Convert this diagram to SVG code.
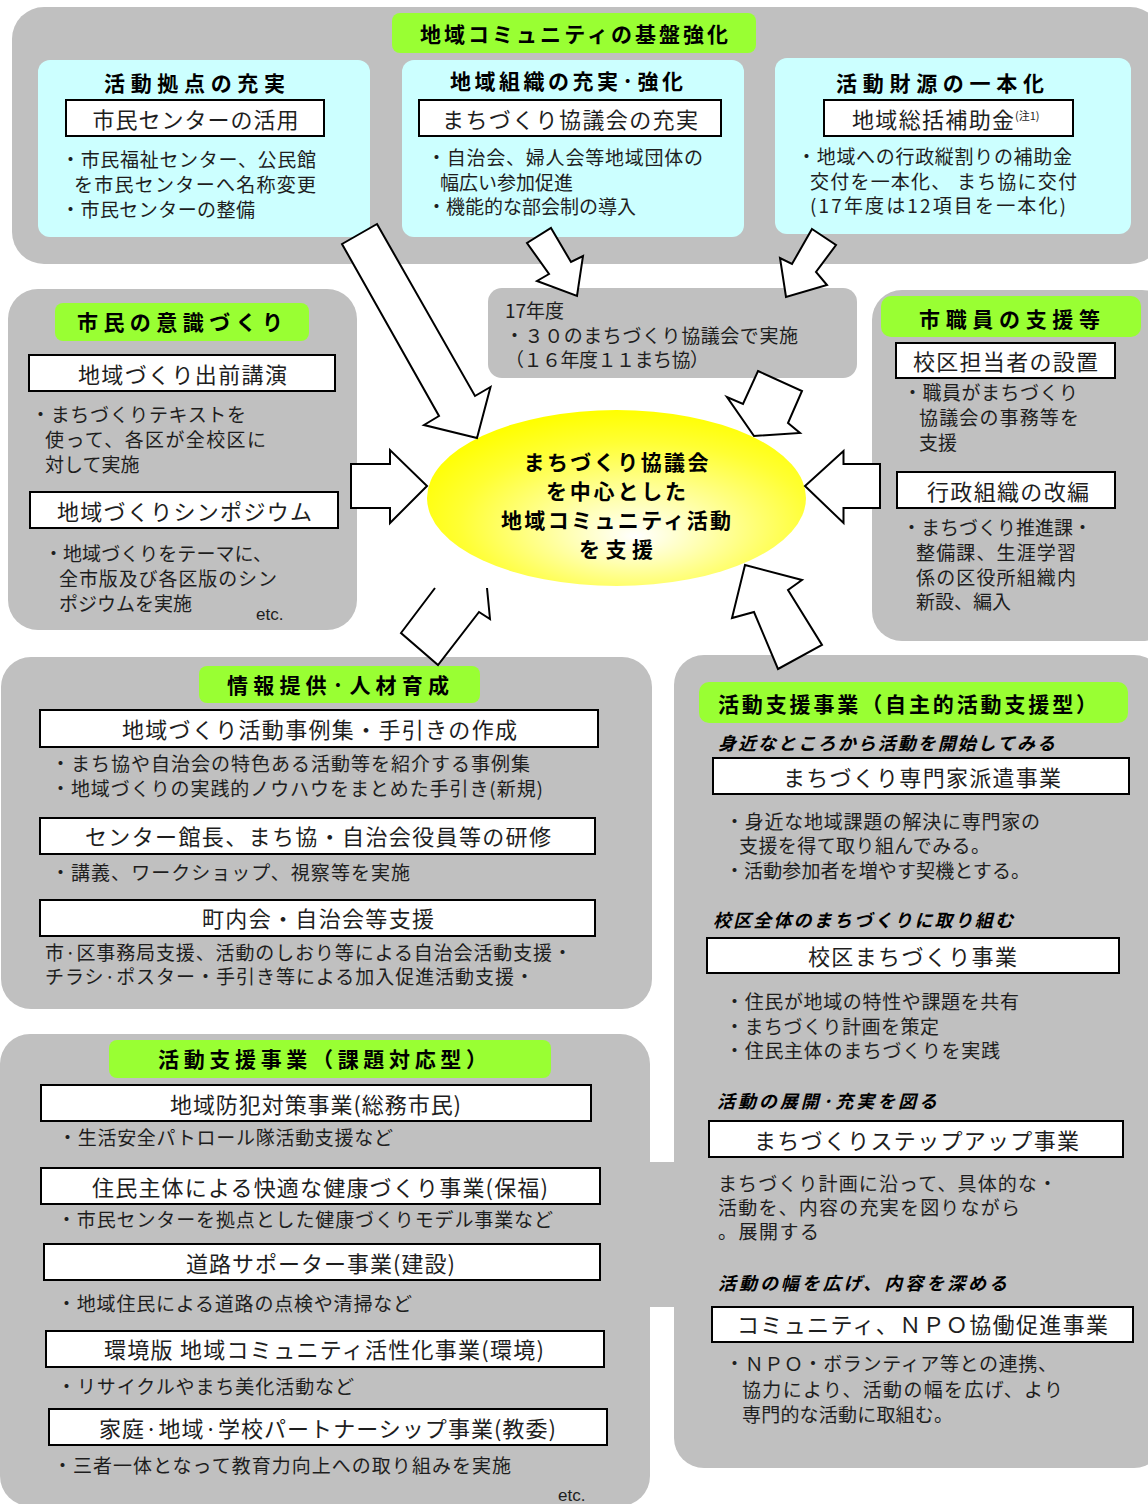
<svg xmlns="http://www.w3.org/2000/svg" width="1148" height="1504" viewBox="0 0 1148 1504">
<defs>
<radialGradient id="yel" cx="0.55" cy="0.62" r="0.62" fx="0.55" fy="0.72">
<stop offset="0" stop-color="#ffffff"/>
<stop offset="0.3" stop-color="#ffffb0"/>
<stop offset="0.75" stop-color="#ffff33"/>
<stop offset="1" stop-color="#ffff00"/>
</radialGradient>
<style>
text{font-family:"Noto Sans CJK JP","Noto Sans",sans-serif;fill:#1e1e1e}
.panel{fill:#c0c0c0}
.cyan{fill:#ccffff}
.green{fill:#99ff33}
.box{fill:#ffffff;stroke:#000;stroke-width:2}
.ttl{font-weight:700;font-size:21px;fill:#000}
.bt{font-size:22px}
.tx{font-size:19px}
.it{font-weight:700;font-style:italic;font-size:18px;fill:#000}
.etc{font-family:"Liberation Sans",Arial,sans-serif;font-size:17px}
.arr{fill:#ffffff;stroke:#000;stroke-width:2;stroke-linejoin:miter}
.ell{font-weight:700;font-size:21px;fill:#000;text-anchor:middle}
</style>
</defs>

<g id="kiban">
<rect class="panel" x="12" y="7" width="1150" height="257" rx="32"/>
<rect class="green" x="392" y="13" width="364" height="40" rx="8"/>
<text class="ttl" x="420" y="42" font-size="23" textLength="308">地域コミュニティの基盤強化</text>
</g>

<g id="kyoten">
<rect class="cyan" x="38" y="60" width="332" height="177" rx="12"/>
<text class="ttl" x="104" y="91" textLength="181">活動拠点の充実</text>
<rect class="box" x="66" y="100" width="258" height="36"/>
<text class="bt" x="92.5" y="128" textLength="206">市民センターの活用</text>
<text class="tx" x="61" y="167" textLength="255">・市民福祉センター、公民館</text>
<text class="tx" x="74" y="192" textLength="242">を市民センターへ名称変更</text>
<text class="tx" x="61" y="217" textLength="194">・市民センターの整備</text>
</g>

<g id="soshiki">
<rect class="cyan" x="402" y="60" width="342" height="177" rx="12"/>
<text class="ttl" x="450" y="89" textLength="233">地域組織の充実·強化</text>
<rect class="box" x="419" y="100" width="302" height="36"/>
<text class="bt" x="442" y="128" textLength="256">まちづくり協議会の充実</text>
<text class="tx" x="427" y="165" textLength="276">・自治会、婦人会等地域団体の</text>
<text class="tx" x="440" y="190">幅広い参加促進</text>
<text class="tx" x="427" y="214">・機能的な部会制の導入</text>
</g>

<g id="zaigen">
<rect class="cyan" x="775" y="58" width="356" height="176" rx="12"/>
<text class="ttl" x="836" y="91" textLength="208">活動財源の一本化</text>
<rect class="box" x="824" y="100" width="249" height="36"/>
<text class="bt" x="852" y="128" textLength="162">地域総括補助金</text>
<text x="1015" y="120" font-size="11">(注1)</text>
<text class="tx" x="797" y="164" textLength="275">・地域への行政縦割りの補助金</text>
<text class="tx" x="810" y="189" textLength="267">交付を一本化、 まち協に交付</text>
<text class="tx" x="810" y="213" textLength="256">(17年度は12項目を一本化)</text>
</g>

<g id="ishiki">
<rect class="panel" x="8" y="289" width="349" height="341" rx="30"/>
<rect class="green" x="55" y="303" width="254" height="38" rx="8"/>
<text class="ttl" x="77" y="330" font-size="22" textLength="206">市民の意識づくり</text>
<rect class="box" x="29" y="355" width="306" height="36"/>
<text class="bt" x="78" y="383" textLength="209">地域づくり出前講演</text>
<text class="tx" x="31" y="422" textLength="215">・まちづくりテキストを</text>
<text class="tx" x="45" y="447" textLength="221">使って、各区が全校区に</text>
<text class="tx" x="45" y="472">対して実施</text>
<rect class="box" x="30" y="492" width="308" height="36"/>
<text class="bt" x="57" y="520" textLength="255">地域づくりシンポジウム</text>
<text class="tx" x="44" y="561" textLength="228">・地域づくりをテーマに、</text>
<text class="tx" x="59" y="586" textLength="218">全市版及び各区版のシン</text>
<text class="tx" x="59" y="611">ポジウムを実施</text>
<text class="etc" x="256" y="620">etc.</text>
</g>

<g id="h17">
<rect class="panel" x="488" y="288" width="369" height="90" rx="14"/>
<text class="tx" x="505" y="318">17年度</text>
<text class="tx" x="505" y="343" textLength="293">・３０のまちづくり協議会で実施</text>
<text class="tx" x="505" y="367" textLength="204">（１６年度１１まち協）</text>
</g>

<g id="shokuin">
<rect class="panel" x="872" y="290" width="300" height="351" rx="30"/>
<rect class="green" x="881" y="296" width="260" height="41" rx="10"/>
<text class="ttl" x="919" y="327" font-size="22" textLength="181">市職員の支援等</text>
<rect class="box" x="896" y="343" width="219" height="35"/>
<text class="bt" x="913" y="370" textLength="185">校区担当者の設置</text>
<text class="tx" x="903" y="400" textLength="175">・職員がまちづくり</text>
<text class="tx" x="919" y="425" textLength="160">協議会の事務等を</text>
<text class="tx" x="919" y="450">支援</text>
<rect class="box" x="897" y="472" width="218" height="36"/>
<text class="bt" x="927" y="500" textLength="162">行政組織の改編</text>
<text class="tx" x="902" y="535" textLength="190">・まちづくり推進課・</text>
<text class="tx" x="916" y="560" textLength="160">整備課、生涯学習</text>
<text class="tx" x="916" y="585" textLength="160">係の区役所組織内</text>
<text class="tx" x="916" y="609">新設、編入</text>
</g>

<g id="joho">
<rect class="panel" x="1" y="657" width="651" height="352" rx="30"/>
<rect class="green" x="199" y="666" width="281" height="37" rx="8"/>
<text class="ttl" x="227" y="693" font-size="22" textLength="222">情報提供·人材育成</text>
<rect class="box" x="40" y="710" width="558" height="37"/>
<text class="bt" x="122" y="738" textLength="395">地域づくり活動事例集・手引きの作成</text>
<text class="tx" x="51" y="771" textLength="479">・まち協や自治会の特色ある活動等を紹介する事例集</text>
<text class="tx" x="51" y="796" textLength="492">・地域づくりの実践的ノウハウをまとめた手引き(新規)</text>
<rect class="box" x="40" y="818" width="555" height="36"/>
<text class="bt" x="85" y="845" textLength="466">センター館長、まち協・自治会役員等の研修</text>
<text class="tx" x="51" y="880" textLength="359">・講義、ワークショップ、視察等を実施</text>
<rect class="box" x="40" y="900" width="555" height="36"/>
<text class="bt" x="202" y="927" textLength="232">町内会・自治会等支援</text>
<text class="tx" x="45" y="960" textLength="527">市·区事務局支援、活動のしおり等による自治会活動支援・</text>
<text class="tx" x="45" y="984" textLength="489">チラシ·ポスター・手引き等による加入促進活動支援・</text>
</g>

<g id="jishu">
<rect class="panel" x="674" y="655" width="490" height="813" rx="30"/>
<rect class="green" x="699" y="682" width="429" height="41" rx="10"/>
<text class="ttl" x="718" y="712" font-size="20" textLength="379">活動支援事業（自主的活動支援型）</text>
<text class="it" x="718" y="750" textLength="337">身近なところから活動を開始してみる</text>
<rect class="box" x="713" y="758" width="416" height="36"/>
<text class="bt" x="783" y="786" textLength="278">まちづくり専門家派遣事業</text>
<text class="tx" x="725" y="829" textLength="315">・身近な地域課題の解決に専門家の</text>
<text class="tx" x="739" y="853" textLength="251">支援を得て取り組んでみる。</text>
<text class="tx" x="725" y="878" textLength="305">・活動参加者を増やす契機とする。</text>
<text class="it" x="713" y="927" textLength="300">校区全体のまちづくりに取り組む</text>
<rect class="box" x="707" y="938" width="412" height="35"/>
<text class="bt" x="808" y="965" textLength="209">校区まちづくり事業</text>
<text class="tx" x="725" y="1009" textLength="294">・住民が地域の特性や課題を共有</text>
<text class="tx" x="725" y="1034" textLength="214">・まちづくり計画を策定</text>
<text class="tx" x="725" y="1058" textLength="275">・住民主体のまちづくりを実践</text>
<text class="it" x="717" y="1108" textLength="220">活動の展開·充実を図る</text>
<rect class="box" x="709" y="1121" width="414" height="36"/>
<text class="bt" x="754" y="1149" textLength="325">まちづくりステップアップ事業</text>
<text class="tx" x="718" y="1191" textLength="339">まちづくり計画に沿って、具体的な・</text>
<text class="tx" x="718" y="1215" textLength="302">活動を、内容の充実を図りながら</text>
<text class="tx" x="718" y="1239" textLength="101">。展開する</text>
<text class="it" x="718" y="1290" textLength="289">活動の幅を広げ、内容を深める</text>
<rect class="box" x="712" y="1307" width="421" height="35"/>
<text class="bt" x="737" y="1333" textLength="371">コミュニティ、ＮＰＯ協働促進事業</text>
<text class="tx" x="725" y="1371" textLength="332">・ＮＰＯ・ボランティア等との連携、</text>
<text class="tx" x="742" y="1397" textLength="321">協力により、活動の幅を広げ、より</text>
<text class="tx" x="742" y="1422" textLength="211">専門的な活動に取組む。</text>
</g>

<g id="kadai">
<rect class="panel" x="0" y="1034" width="650" height="472" rx="30"/>
<rect class="panel" x="640" y="1162" width="45" height="145"/>
<rect class="green" x="109" y="1040" width="442" height="38" rx="8"/>
<text class="ttl" x="158" y="1067" textLength="329">活動支援事業（課題対応型）</text>
<rect class="box" x="41" y="1085" width="550" height="36"/>
<text class="bt" x="170" y="1113" textLength="291">地域防犯対策事業(総務市民)</text>
<text class="tx" x="58" y="1145" textLength="335">・生活安全パトロール隊活動支援など</text>
<rect class="box" x="41" y="1168" width="559" height="36"/>
<text class="bt" x="92" y="1196" textLength="456">住民主体による快適な健康づくり事業(保福)</text>
<text class="tx" x="57" y="1227" textLength="496">・市民センターを拠点とした健康づくりモデル事業など</text>
<rect class="box" x="44" y="1244" width="556" height="36"/>
<text class="bt" x="186" y="1272" textLength="269">道路サポーター事業(建設)</text>
<text class="tx" x="57" y="1311" textLength="355">・地域住民による道路の点検や清掃など</text>
<rect class="box" x="46" y="1331" width="558" height="36"/>
<text class="bt" x="104" y="1358" textLength="440">環境版 地域コミュニティ活性化事業(環境)</text>
<text class="tx" x="57" y="1394" textLength="297">・リサイクルやまち美化活動など</text>
<rect class="box" x="49" y="1409" width="558" height="36"/>
<text class="bt" x="99" y="1437" textLength="457">家庭·地域·学校パートナーシップ事業(教委)</text>
<text class="tx" x="53" y="1473" textLength="458">・三者一体となって教育力向上への取り組みを実施</text>
<text class="etc" x="558" y="1501">etc.</text>
</g>

<g id="connectors">
<polyline class="arr" points="487,588 490,619 479,612 438,665 401,633 435,588"/>
</g>

<g id="center">
<ellipse cx="616.5" cy="498" rx="189.5" ry="88" fill="url(#yel)"/>
<text class="ell" x="616" y="470" textLength="185">まちづくり協議会</text>
<text class="ell" x="616" y="499" textLength="140">を中心とした</text>
<text class="ell" x="616" y="528" textLength="230">地域コミュニティ活動</text>
<text class="ell" x="616" y="557" textLength="74">を支援</text>
</g>

<g id="connectors-top">
<polygon class="arr" points="377,224 475,396 490.5,387 477,438 424,425 439,416 342,244"/>
<polygon class="arr" points="551,228 571,262 583,256 577,296 537,281 549,274 527,243"/>
<polygon class="arr" points="812,229 836,245 816,272 827,285 786,297 780,258 792,264"/>
<polygon class="arr" points="758,371 802,391 788,423 800,433 754,436 727,397 743,404"/>
<polygon class="arr" points="351,464 390,464 390,450 427,486 390,523 390,508 351,508"/>
<polygon class="arr" points="880,464 843.5,464 843.5,451 805,486 843.5,523 843.5,508 880,508"/>
<polygon class="arr" points="745,565 802,580 788,590 822,645 778,669 754,612 732,618"/>
</g>
</svg>
